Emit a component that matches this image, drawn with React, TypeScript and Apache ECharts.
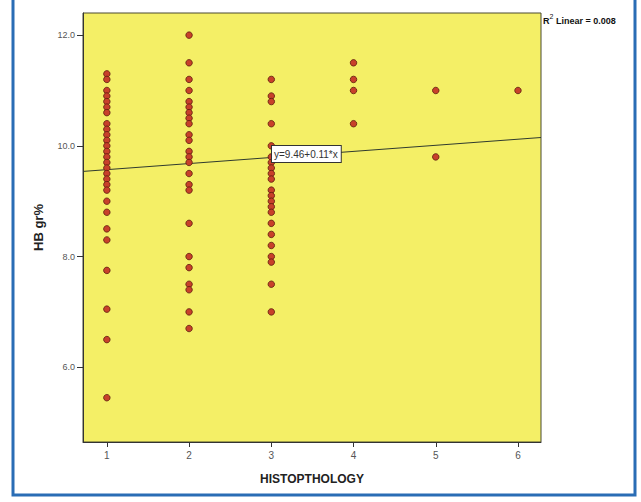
import React, { useEffect, useRef } from "react";
import * as echarts from "echarts";

const histo1: number[] = [11.3, 11.2, 11.0, 10.9, 10.8, 10.7, 10.6, 10.4, 10.3, 10.2, 10.1, 10.0, 9.9, 9.8, 9.7, 9.6, 9.5, 9.4, 9.3, 9.2, 9.0, 8.8, 8.5, 8.3, 7.75, 7.05, 6.5, 5.45];
const histo2: number[] = [12.0, 11.5, 11.2, 11.0, 10.8, 10.7, 10.6, 10.5, 10.4, 10.2, 10.1, 9.9, 9.8, 9.7, 9.5, 9.3, 9.2, 8.6, 8.0, 7.8, 7.5, 7.4, 7.0, 6.7];
const histo3: number[] = [11.2, 10.9, 10.8, 10.4, 10.0, 9.8, 9.7, 9.6, 9.5, 9.4, 9.2, 9.1, 9.0, 8.9, 8.8, 8.6, 8.4, 8.2, 8.0, 7.9, 7.5, 7.0];
const histo4: number[] = [11.5, 11.2, 11.0, 10.4];
const histo5: number[] = [11.0, 9.8];
const histo6: number[] = [11.0];

const xTicks: number[] = [1, 2, 3, 4, 5, 6];
const yTicks: number[] = [6, 8, 10, 12];

const intercept = 9.46;
const slope = 0.11;
const rSquared = "0.008";

const xMin = 0.71;
const xMax = 6.28;
const yMin = 4.65;
const yMax = 12.4;

export default function App() {
  const ref = useRef<HTMLDivElement>(null);
  useEffect(() => {
    if (!ref.current) return;
    const chart = echarts.init(ref.current, null, { renderer: "svg" });
    const groups = [histo1, histo2, histo3, histo4, histo5, histo6];
    const points: number[][] = [];
    groups.forEach((g, i) => g.forEach((v) => points.push([i + 1, v])));
    const fitLine = [
      [xMin, intercept + slope * xMin],
      [xMax, intercept + slope * xMax],
    ];
    const font = "Arial, 'Liberation Sans', sans-serif";
    chart.setOption({
      animation: false,
      backgroundColor: "#ffffff",
      grid: {
        left: 83,
        top: 13,
        right: 100,
        bottom: 60,
        show: true,
        backgroundColor: "#f4ef66",
        borderColor: "#4a4a30",
        borderWidth: 1,
      },
      xAxis: {
        type: "value",
        min: xMin,
        max: xMax,
        splitLine: { show: false },
        axisLine: { show: true, lineStyle: { color: "#333" } },
        axisTick: { show: true, length: 5, customValues: xTicks, lineStyle: { color: "#333" } },
        axisLabel: { customValues: xTicks, color: "#555", fontSize: 10, fontFamily: font, margin: 8 },
        name: "HISTOPTHOLOGY",
        nameLocation: "middle",
        nameGap: 31,
        nameTextStyle: { fontWeight: "bold", fontSize: 12, color: "#222", fontFamily: font },
      },
      yAxis: {
        type: "value",
        min: yMin,
        max: yMax,
        splitLine: { show: false },
        axisLine: { show: true, lineStyle: { color: "#333" } },
        axisTick: { show: true, length: 6, customValues: yTicks, lineStyle: { color: "#333" } },
        axisLabel: {
          customValues: yTicks,
          color: "#555",
          fontSize: 9,
          fontFamily: font,
          margin: 8,
          formatter: (v: number) => v.toFixed(1),
        },
        name: "HB gr%",
        nameLocation: "middle",
        nameGap: 38,
        nameTextStyle: { fontWeight: "bold", fontSize: 13, color: "#222", fontFamily: font },
      },
      series: [
        {
          type: "line",
          data: fitLine,
          symbol: "none",
          lineStyle: { color: "#2f3a2f", width: 1 },
          z: 2,
        },
        {
          type: "scatter",
          data: points,
          symbolSize: 6.5,
          itemStyle: { color: "#c8412a", borderColor: "#5c1a0c", borderWidth: 0.8, opacity: 1 },
          z: 3,
        },
      ],
      graphic: [
        {
          type: "rect",
          shape: { x: 13, y: -10, width: 622, height: 505 },
          style: { fill: "none", stroke: "#2a6db5", lineWidth: 3 },
          silent: true,
        },
        {
          type: "text",
          x: 272,
          y: 146,
          z: 10,
          style: {
            text: `y=${intercept.toFixed(2)}+${slope.toFixed(2)}*x`,
            fill: "#333",
            font: `10px ${font}`,
            backgroundColor: "#ffffff",
            borderColor: "#333",
            borderWidth: 1,
            padding: [3, 3, 3, 2],
          },
        },
        {
          type: "text",
          x: 543,
          y: 16,
          z: 10,
          style: { text: "R", fill: "#111", font: `bold 9px ${font}` },
        },
        {
          type: "text",
          x: 549.5,
          y: 12.5,
          z: 10,
          style: { text: "2", fill: "#111", font: `7px ${font}` },
        },
        {
          type: "text",
          x: 556,
          y: 16,
          z: 10,
          style: { text: `Linear = ${rSquared}`, fill: "#111", font: `bold 9px ${font}` },
        },
      ],
    });
    return () => chart.dispose();
  }, []);
  return (
    <div
      ref={ref}
      style={{ position: "fixed", left: 0, top: 0, width: 641, height: 502 }}
    />
  );
}
